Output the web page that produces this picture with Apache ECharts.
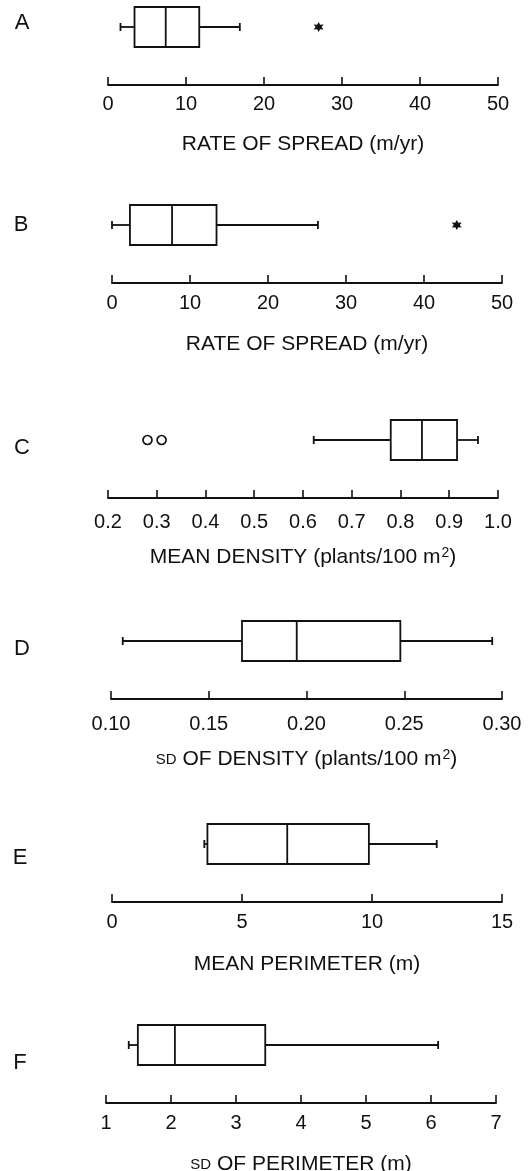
<!DOCTYPE html>
<html>
<head>
    <meta charset="utf-8">
    <title>Box plots | ECharts</title>
    <script src="https://cdn.jsdelivr.net/npm/echarts@6/dist/echarts.min.js"></script>
    <style>
        html, body { margin: 0; padding: 0; background: #fff; }
    </style>
</head>
<body>
    <div id="main" style="width: 530px;height:1171px;"></div>
    <script type="text/javascript">
        // five-number summaries: [low whisker, Q1, median, Q3, high whisker]
        var panels = ['A', 'B', 'C', 'D', 'E', 'F'];
        var boxA = [1.6, 3.4, 7.4, 11.7, 16.9];
        var boxB = [0.0, 2.3, 7.7, 13.4, 26.4];
        var boxC = [0.622, 0.780, 0.844, 0.916, 0.959];
        var boxD = [0.106, 0.167, 0.195, 0.248, 0.295];
        var boxE = [3.55, 3.67, 6.74, 9.88, 12.49];
        var boxF = [1.35, 1.49, 2.06, 3.45, 6.11];

        // outliers
        var outA = [27.0];
        var outB = [44.2];
        var outC = [0.281, 0.310];

        // axis ranges [min, max, interval]
        var axisA = [0, 50, 10];
        var axisB = [0, 50, 10];
        var axisC = [0.2, 1.0, 0.1];
        var axisD = [0.10, 0.30, 0.05];
        var axisE = [0, 15, 5];
        var axisF = [1, 7, 1];

        var names = [
            'RATE OF SPREAD (m/yr)',
            'RATE OF SPREAD (m/yr)',
            'MEAN DENSITY (plants/100 m{sup|2})',
            '{sc|SD} OF DENSITY (plants/100 m{sup|2})',
            'MEAN PERIMETER (m)',
            '{sc|SD} OF PERIMETER (m)'
        ];
        var decimals = [0, 0, 1, 2, 0, 0];

        var boxes = [boxA, boxB, boxC, boxD, boxE, boxF];
        var outliers = [outA, outB, outC, [], [], []];
        var ranges = [axisA, axisB, axisC, axisD, axisE, axisF];

        // layout of each panel (pixels)
        var axisY = [85, 283, 498, 699, 902, 1103];
        var gridLeft = [108, 112, 108, 111, 112, 106];
        var gridWidth = [390, 390, 390, 391, 390, 390];
        var labelMargin = [9, 10, 14, 15, 10, 10];
        var nameGaps = [49, 51, 48, 49, 52, 51];
        var letterPos = [[22, 23], [21, 225], [22, 448], [22, 649], [20, 858], [20, 1063]];

        var FONT = '"Liberation Sans", Arial, Helvetica, sans-serif';
        var INK = '#111';
        var STAR = 'path://M0,-10L2.6,-4.5L8.7,-5L5.2,0L8.7,5L2.6,4.5L0,10L-2.6,4.5L-8.7,5L-5.2,0L-8.7,-5L-2.6,-4.5Z';

        function renderBox(params, api) {
            var cat = api.value(0);
            var p = [1, 2, 3, 4, 5].map(function (i) { return api.coord([api.value(i), cat]); });
            var y = p[0][1], h = 20, cap = 4;
            function st() { return { stroke: INK, lineWidth: 1.8, fill: null }; }
            function ln(x1, y1, x2, y2) {
                return { type: 'line', shape: { x1: x1, y1: y1, x2: x2, y2: y2 }, style: st() };
            }
            return {
                type: 'group',
                children: [
                    ln(p[0][0], y, p[1][0], y),
                    ln(p[3][0], y, p[4][0], y),
                    ln(p[0][0], y - cap, p[0][0], y + cap),
                    ln(p[4][0], y - cap, p[4][0], y + cap),
                    { type: 'rect', shape: { x: p[1][0], y: y - h, width: p[3][0] - p[1][0], height: 2 * h },
                      style: { stroke: INK, lineWidth: 1.8, fill: '#fff' } },
                    ln(p[2][0], y - h, p[2][0], y + h)
                ]
            };
        }

        var grids = [], xAxes = [], yAxes = [], series = [], graphics = [];
        panels.forEach(function (name, i) {
            grids.push({
                left: gridLeft[i], width: gridWidth[i], top: axisY[i] - 116, height: 116,
                containLabel: false, outerBoundsMode: 'none'
            });
            (function (d) {
                xAxes.push({
                    gridIndex: i, type: 'value',
                    min: ranges[i][0], max: ranges[i][1], interval: ranges[i][2],
                    splitLine: { show: false },
                    axisLine: { show: true, lineStyle: { color: INK, width: 1.8 } },
                    axisTick: { show: true, inside: true, length: 8, lineStyle: { color: INK, width: 1.6 } },
                    axisLabel: {
                        margin: labelMargin[i], color: INK, fontSize: 20, fontFamily: FONT,
                        showMinLabel: true, showMaxLabel: true,
                        formatter: function (v) { return Number(v).toFixed(d); }
                    },
                    name: names[i], nameLocation: 'middle', nameGap: nameGaps[i],
                    nameTextStyle: {
                        color: INK, fontSize: 21, fontFamily: FONT,
                        rich: {
                            sc: { fontSize: 15, color: INK, fontFamily: FONT },
                            sup: { fontSize: 14, color: INK, fontFamily: FONT, padding: [0, 0, 9, 1] }
                        }
                    }
                });
            })(decimals[i]);
            yAxes.push({ gridIndex: i, type: 'category', data: [name], show: false });

            series.push({
                type: 'custom', xAxisIndex: i, yAxisIndex: i,
                renderItem: renderBox,
                encode: { x: [1, 2, 3, 4, 5], y: 0 },
                data: [[0].concat(boxes[i])],
                silent: true
            });
            if (outliers[i].length) {
                series.push({
                    type: 'scatter', xAxisIndex: i, yAxisIndex: i,
                    symbol: i === 2 ? 'circle' : STAR,
                    symbolSize: i === 2 ? 9 : 10,
                    itemStyle: i === 2 ? { color: '#fff', borderColor: INK, borderWidth: 1.7, opacity: 1 } : { color: INK, opacity: 1 },
                    data: outliers[i].map(function (v) { return [v, 0]; }),
                    z: 5,
                    silent: true
                });
            }

            graphics.push({
                type: 'text', x: letterPos[i][0], y: letterPos[i][1],
                style: { text: name, fontSize: 22, fontFamily: FONT, fill: INK, align: 'center', verticalAlign: 'middle' }
            });
        });

        var myChart = echarts.init(document.getElementById('main'));
        myChart.setOption({
            backgroundColor: '#fff',
            animation: false,
            grid: grids,
            xAxis: xAxes,
            yAxis: yAxes,
            series: series,
            graphic: graphics
        });
    </script>
</body>
</html>
